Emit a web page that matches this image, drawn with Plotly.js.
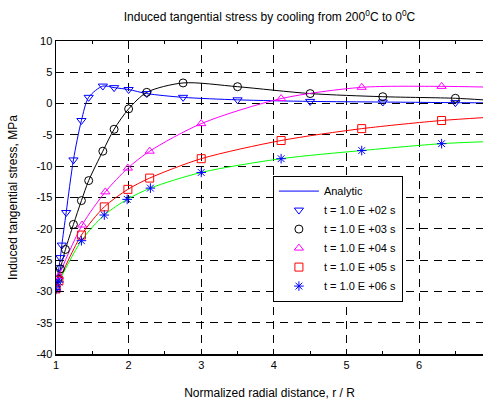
<!DOCTYPE html>
<html>
<head>
<meta charset="utf-8">
<script src="https://cdn.plot.ly/plotly-3.0.1.min.js"></script>
<style>html,body{margin:0;padding:0;background:#fff;}#chart{width:483px;height:400px;}</style>
</head>
<body>
<div id="chart"></div>
<script>
// Numerical results (markers)
const x_t2 = [1.0, 1.02, 1.04, 1.06, 1.08, 1.14, 1.24, 1.35, 1.45, 1.645, 1.8, 2.0, 2.25, 2.75, 3.5, 4.5, 5.5, 6.5];
const y_t2 = [-29.5, -27.9, -26.2, -24.6, -22.6, -17.4, -9.0, -2.7, 1.0, 2.8, 2.55, 2.25, 1.6, 1.0, 0.6, 0.35, 0.25, 0.15];

const x_t3 = [1.0, 1.03, 1.06, 1.13, 1.24, 1.35, 1.45, 1.645, 1.8, 2.0, 2.25, 2.75, 3.5, 4.5, 5.5, 6.5];
const y_t3 = [-29.5, -28.0, -26.4, -23.3, -19.3, -15.5, -12.3, -7.6, -4.1, -0.85, 1.8, 3.3, 2.7, 1.6, 1.1, 0.85];

const x_t4 = [1.0, 1.04, 1.36, 1.68, 1.99, 2.29, 3.0, 4.1, 5.21, 6.31];
const y_t4 = [-29.6, -27.6, -19.4, -14.1, -10.3, -7.6, -3.2, 0.8, 2.6, 2.75];

const x_t5 = [1.0, 1.04, 1.35, 1.665, 1.99, 2.29, 3.0, 4.1, 5.21, 6.31];
const y_t5 = [-29.6, -28.3, -21.0, -16.5, -13.7, -11.9, -8.8, -5.9, -4.0, -2.7];

const x_t6 = [1.0, 1.04, 1.35, 1.665, 1.98, 2.3, 3.0, 4.1, 5.21, 6.31];
const y_t6 = [-29.7, -28.5, -21.9, -17.8, -15.3, -13.5, -11.0, -8.8, -7.5, -6.4];

// Analytic curves continue to the right edge of the plot; value there
const xEdge = 6.88;
const yEdge = [0.12, 0.6, 2.65, -2.25, -6.1];

const legendNames = ["t = 1.0 E +02 s", "t = 1.0 E +03 s", "t = 1.0 E +04 s", "t = 1.0 E +05 s", "t = 1.0 E +06 s"];
const xTicks = [1, 2, 3, 4, 5, 6];
const yTicks = [-40, -35, -30, -25, -20, -15, -10, -5, 0, 5, 10];

const xs = [x_t2, x_t3, x_t4, x_t5, x_t6];
const ys = [y_t2, y_t3, y_t4, y_t5, y_t6];
const lineColors = ['#0000ff', '#000000', '#ff00ff', '#ff0000', '#00ff00'];
const markColors = ['#0000ff', '#000000', '#ff00ff', '#ff0000', '#0000ff'];
const symbols = ['triangle-down-open', 'circle-open', 'triangle-up-open', 'square-open', 'asterisk-open'];

const traces = [];
for (let i = 0; i < 5; i++) {
  traces.push({
    x: xs[i].concat([xEdge]), y: ys[i].concat([yEdge[i]]),
    mode: 'lines', type: 'scatter',
    line: {color: lineColors[i], width: 1, shape: 'spline', smoothing: 0.8},
    name: 'Analytic', showlegend: i === 0, hoverinfo: 'skip'
  });
}
for (let i = 0; i < 5; i++) {
  traces.push({
    x: xs[i], y: ys[i], mode: 'markers', type: 'scatter', name: legendNames[i],
    marker: {symbol: symbols[i], size: 8, color: markColors[i], line: {color: markColors[i], width: 1}}
  });
}

const font = {family: 'Liberation Sans, Arial, sans-serif', size: 11, color: '#000'};
const layout = {
  width: 483, height: 400,
  margin: {l: 56, r: 0, t: 41, b: 46},
  paper_bgcolor: '#fff', plot_bgcolor: '#fff',
  font: font,
  showlegend: true,
  title: {text: 'Induced tangential stress by cooling from 200<sup>0</sup>C to 0<sup>0</sup>C',
          x: 0.5, xref: 'paper', y: 0.9575, yref: 'container', yanchor: 'middle',
          font: {family: font.family, size: 12, color: '#000'}},
  xaxis: {
    range: [1, xEdge], tickvals: xTicks, ticktext: xTicks.map(String),
    showline: true, linecolor: '#000', linewidth: 1.5, mirror: 'ticks',
    ticks: 'inside', ticklen: 5, tickcolor: '#000',
    showgrid: true, gridcolor: '#000', gridwidth: 1, griddash: '8px,6px', zeroline: false,
    minor: {dtick: 0.5, ticks: 'inside', ticklen: 3, tickcolor: '#000', showgrid: false},
    title: {text: 'Normalized radial distance, r / R', font: {family: font.family, size: 12, color: '#000'}, standoff: 21},
    tickfont: font
  },
  yaxis: {
    range: [-40, 10], tickvals: yTicks, ticktext: yTicks.map(String),
    showline: true, linecolor: '#000', linewidth: 1.5, mirror: 'ticks',
    ticks: 'inside', ticklen: 5, tickcolor: '#000',
    showgrid: true, gridcolor: '#000', gridwidth: 1, griddash: '8px,6px', zeroline: false,
    title: {text: 'Induced tangential stress, MPa', font: {family: font.family, size: 12, color: '#000'}, standoff: 16},
    tickfont: font
  },
  legend: {
    x: 0.508, y: 0.57, xanchor: 'left', yanchor: 'top',
    bgcolor: '#fff', bordercolor: '#000', borderwidth: 1,
    font: font, itemwidth: 40, tracegroupgap: 0
  }
};
Plotly.newPlot('chart', traces, layout, {displayModeBar: false, staticPlot: true});
</script>
</body>
</html>
